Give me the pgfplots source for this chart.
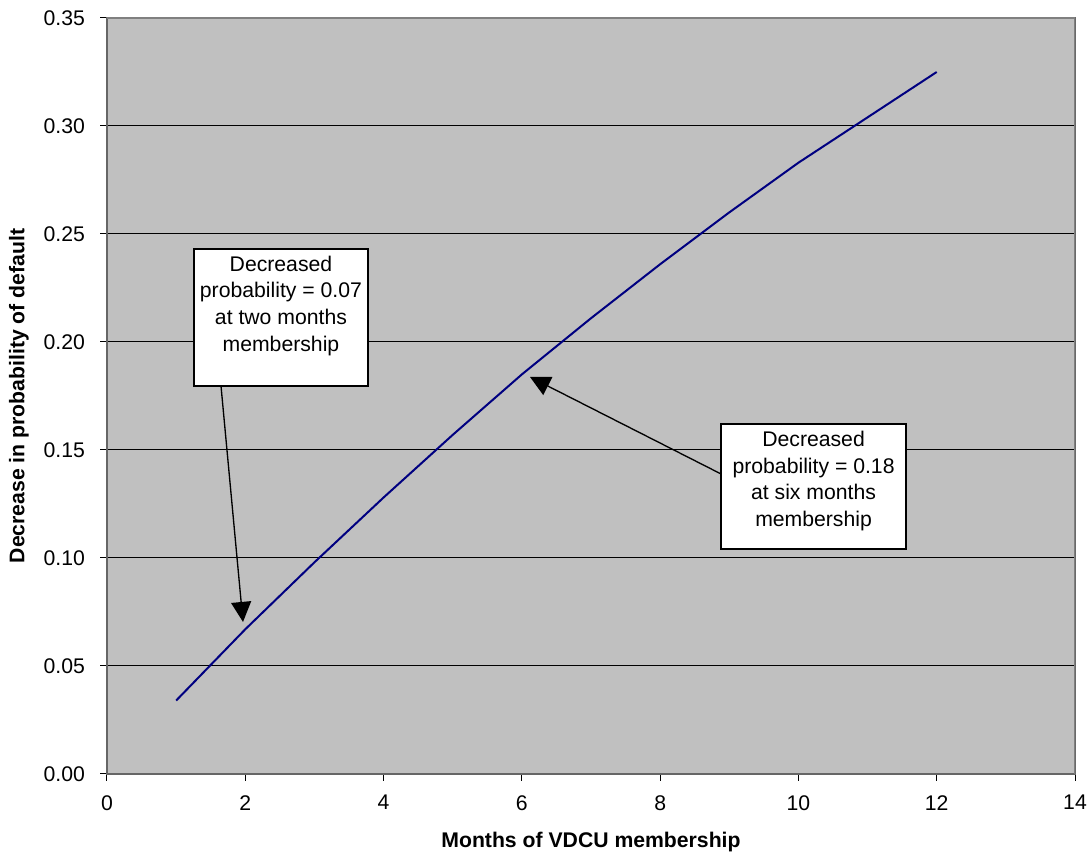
\documentclass[border=0pt]{standalone}
\usepackage{pgfplots}
\pgfplotsset{compat=1.18}
\usetikzlibrary{arrows.meta}
\usepackage{fontspec}
\setmainfont{Liberation Sans}
\definecolor{plotgray}{HTML}{C0C0C0}
\definecolor{excelnavy}{HTML}{000080}
\begin{document}
\begin{tikzpicture}
  % page size in pt (1 px = 0.75 pt), origin at the plot's lower left corner
  \useasboundingbox (-80.25pt,-61.5pt) rectangle (736.5pt,580.5pt);
  \begin{axis}[
      at={(0,0)}, anchor=south west,
      scale only axis,
      width=726pt, height=567pt,
      xmin=0, xmax=14, ymin=0, ymax=0.35,
      xtick={0,2,...,14},
      ytick={0,0.05,...,0.35},
      ymajorgrids,
      grid style={black, line width=0.75pt},
      axis background/.style={fill=plotgray},
      axis line style={draw=gray!80!black, line width=1pt},
      tick align=outside,
      major tick length=5pt,
      tick style={black, line width=0.75pt},
      xtick pos=bottom, ytick pos=left,
      font=\fontsize{15.9}{20}\selectfont,
      /pgf/number format/assume math mode=true,
      xticklabel style={yshift=-7.5pt},
      yticklabel style={xshift=-8pt, /pgf/number format/fixed, /pgf/number format/fixed zerofill,
        /pgf/number format/precision=2},
      xlabel={\textbf{Months of VDCU membership}},
      ylabel={\textbf{Decrease in probability of default}},
      every axis x label/.style={at={(axis description cs:0.5,0)}, anchor=center, yshift=-51pt},
      every axis y label/.style={at={(axis description cs:0,0.5)}, anchor=center, xshift=-66pt, rotate=90},
    ]

    %% --- predicted decrease in default probability ---
    \addplot[excelnavy, line width=1.5pt] coordinates {
      (1, 0.034) (2, 0.067) (3, 0.098) (4, 0.128) (5, 0.157) (6, 0.185)
      (7, 0.211) (8, 0.236) (9, 0.260) (10, 0.283) (11, 0.304) (12, 0.325)
    };

    %% --- callout at two months ---
    \draw[line width=1pt, -{Triangle[length=15pt, width=15pt]}]
      (axis cs:1.649,0.1796) -- (axis cs:1.967,0.0704);
    \draw[fill=white, line width=1pt] (axis cs:1.258,0.2431) rectangle (axis cs:3.775,0.1796);
    \node[anchor=north, align=center, inner sep=5pt] at (axis cs:2.516,0.2431)
      {Decreased\\probability = 0.07\\at two months\\membership};

    %% --- callout at six months ---
    \draw[line width=1pt, -{Triangle[length=15pt, width=15pt]}]
      (axis cs:8.881,0.1389) -- (axis cs:6.118,0.1838);
    \draw[fill=white, line width=1pt] (axis cs:8.881,0.1620) rectangle (axis cs:11.557,0.1042);
    \node[anchor=north, align=center, inner sep=5pt] at (axis cs:10.219,0.1620)
      {Decreased\\probability = 0.18\\at six months\\membership};

    %% --- grey frame on top and right ---
    \draw[gray, line width=1pt] (rel axis cs:0,1) -- (rel axis cs:1,1) -- (rel axis cs:1,0);
  \end{axis}
\end{tikzpicture}
\end{document}
